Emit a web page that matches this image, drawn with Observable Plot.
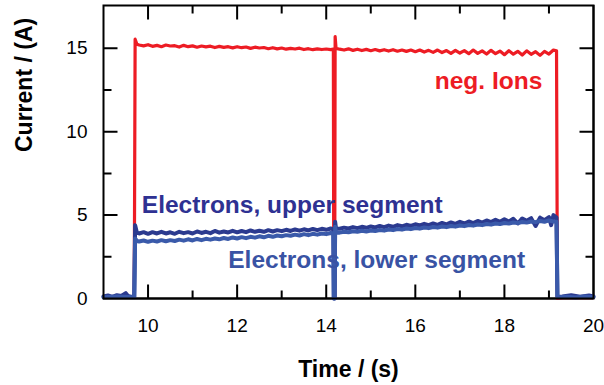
<!DOCTYPE html>
<html><head><meta charset="utf-8">
<script src="https://cdn.jsdelivr.net/npm/d3@7"></script>
<script src="https://cdn.jsdelivr.net/npm/@observablehq/plot@0.6"></script>
<style>
body{margin:0;background:#fff}
#chart svg{font-family:'Liberation Sans', Arial, sans-serif;background:#fff;color:#000}
</style>
</head><body><div id="chart"></div>
<script>
const xMajorTicks = [10, 12, 14, 16, 18, 20];
const xMinorTicks = [11, 13, 15, 17, 19];
const yMajorTicks = [0, 5, 10, 15];
const yMinorTicks = [2.5, 7.5, 12.5];

// [time (s), current (A)]
const negIons = [
 [9.0,0.1],[9.69,0.1],[9.71,15.55],[9.75,15.25],
 [9.8,15.2],[9.9,15.15],[10.0,15.22],[10.1,15.12],[10.2,15.18],[10.3,15.1],[10.4,15.2],[10.5,15.14],[10.6,15.16],[10.7,15.08],[10.8,15.18],[10.9,15.1],
 [11.0,15.15],[11.1,15.07],[11.2,15.14],[11.3,15.09],[11.4,15.13],[11.5,15.05],[11.6,15.12],[11.7,15.06],[11.8,15.1],[11.9,15.03],
 [12.0,15.1],[12.1,15.04],[12.2,15.08],[12.3,15.0],[12.4,15.07],[12.5,15.02],[12.6,15.05],[12.7,14.98],[12.8,15.04],[12.9,14.97],
 [13.0,15.02],[13.1,14.95],[13.2,15.0],[13.3,14.96],[13.4,15.01],[13.5,14.93],[13.6,14.98],[13.7,14.92],[13.8,14.97],[13.9,14.93],
 [14.0,14.96],[14.1,14.92],[14.16,14.95],[14.17,0],[14.19,0],[14.2,15.7],[14.22,15.0],
 [14.3,14.95],[14.4,14.9],[14.5,14.97],[14.6,14.88],[14.7,14.95],[14.8,14.87],[14.9,14.94],
 [15.0,14.86],[15.1,14.93],[15.2,14.85],[15.3,14.92],[15.4,14.84],[15.5,14.92],[15.6,14.83],[15.7,14.9],[15.8,14.82],[15.9,14.9],
 [16.0,14.8],[16.1,14.9],[16.2,14.78],[16.3,14.88],[16.4,14.76],[16.5,14.9],[16.6,14.75],[16.7,14.87],[16.8,14.7],[16.9,14.88],
 [17.0,14.72],[17.1,14.86],[17.2,14.68],[17.3,14.9],[17.4,14.7],[17.5,14.85],[17.6,14.66],[17.7,14.88],[17.8,14.68],[17.9,14.84],
 [18.0,14.62],[18.1,14.86],[18.2,14.65],[18.3,14.82],[18.4,14.6],[18.5,14.85],[18.6,14.64],[18.7,14.8],[18.8,14.58],[18.9,14.82],
 [19.0,14.66],[19.1,14.9],[19.17,14.85],[19.19,0],[19.3,0.05],[20.0,0.05]
];

const electronsUpper = [
 [9.0,0.12],[9.1,0.18],[9.2,0.1],[9.3,0.2],[9.4,0.15],[9.5,0.32],[9.55,0.15],[9.6,0.12],[9.69,0.1],[9.71,4.4],[9.75,3.95],
 [9.8,3.9],[9.9,3.98],[10.0,3.88],[10.1,3.98],[10.2,3.9],[10.3,4.0],[10.4,3.9],[10.5,3.97],[10.6,3.88],[10.7,4.0],[10.8,3.92],[10.9,3.98],
 [11.0,3.9],[11.1,4.02],[11.2,3.93],[11.3,4.0],[11.4,3.92],[11.5,4.05],[11.6,3.95],[11.7,4.02],[11.8,3.96],[11.9,4.06],
 [12.0,3.97],[12.1,4.05],[12.2,3.98],[12.3,4.08],[12.4,4.0],[12.5,4.06],[12.6,4.0],[12.7,4.1],[12.8,4.02],[12.9,4.1],
 [13.0,4.04],[13.1,4.12],[13.2,4.05],[13.3,4.14],[13.4,4.07],[13.5,4.15],[13.6,4.08],[13.7,4.17],[13.8,4.1],[13.9,4.18],
 [14.0,4.12],[14.1,4.2],[14.16,4.15],[14.17,0],[14.19,0],[14.2,4.6],[14.22,4.2],
 [14.3,4.18],[14.4,4.25],[14.5,4.2],[14.6,4.28],[14.7,4.22],[14.8,4.3],[14.9,4.24],
 [15.0,4.32],[15.1,4.26],[15.2,4.35],[15.3,4.28],[15.4,4.37],[15.5,4.3],[15.6,4.4],[15.7,4.33],[15.8,4.42],[15.9,4.35],
 [16.0,4.45],[16.1,4.38],[16.2,4.48],[16.3,4.4],[16.4,4.5],[16.5,4.42],[16.6,4.53],[16.7,4.45],[16.8,4.56],[16.9,4.48],
 [17.0,4.6],[17.1,4.5],[17.2,4.62],[17.3,4.52],[17.4,4.65],[17.5,4.55],[17.6,4.68],[17.7,4.58],[17.8,4.72],[17.9,4.6],
 [18.0,4.75],[18.1,4.62],[18.2,4.78],[18.3,4.5],[18.4,4.8],[18.5,4.66],[18.6,4.82],[18.7,4.35],[18.8,4.85],[18.9,4.7],
 [19.0,4.88],[19.05,4.4],[19.1,5.0],[19.17,4.85],[19.19,0.1],[19.3,0.12],[19.5,0.2],[19.7,0.1],[19.9,0.18],[20.0,0.12]
];

const electronsLower = [
 [9.0,0.08],[9.3,0.12],[9.69,0.08],[9.71,3.6],[9.75,3.45],
 [9.8,3.42],[9.9,3.48],[10.0,3.4],[10.1,3.47],[10.2,3.42],[10.3,3.5],[10.4,3.43],[10.5,3.5],[10.6,3.45],[10.7,3.53],[10.8,3.47],[10.9,3.55],
 [11.0,3.48],[11.1,3.57],[11.2,3.5],[11.3,3.58],[11.4,3.53],[11.5,3.6],[11.6,3.55],[11.7,3.63],[11.8,3.57],[11.9,3.66],
 [12.0,3.6],[12.1,3.68],[12.2,3.62],[12.3,3.7],[12.4,3.65],[12.5,3.73],[12.6,3.67],[12.7,3.76],[12.8,3.7],[12.9,3.78],
 [13.0,3.73],[13.1,3.8],[13.2,3.76],[13.3,3.83],[13.4,3.78],[13.5,3.86],[13.6,3.8],[13.7,3.88],[13.8,3.83],[13.9,3.9],
 [14.0,3.86],[14.1,3.93],[14.16,3.9],[14.17,0],[14.19,0],[14.2,4.3],[14.22,3.95],
 [14.3,3.95],[14.4,4.0],[14.5,3.97],[14.6,4.03],[14.7,4.0],[14.8,4.06],[14.9,4.02],
 [15.0,4.08],[15.1,4.05],[15.2,4.11],[15.3,4.07],[15.4,4.14],[15.5,4.1],[15.6,4.17],[15.7,4.13],[15.8,4.2],[15.9,4.16],
 [16.0,4.23],[16.1,4.19],[16.2,4.26],[16.3,4.22],[16.4,4.29],[16.5,4.25],[16.6,4.32],[16.7,4.28],[16.8,4.35],[16.9,4.31],
 [17.0,4.38],[17.1,4.34],[17.2,4.41],[17.3,4.37],[17.4,4.44],[17.5,4.4],[17.6,4.47],[17.7,4.43],[17.8,4.5],[17.9,4.46],
 [18.0,4.53],[18.1,4.49],[18.2,4.56],[18.3,4.52],[18.4,4.59],[18.5,4.55],[18.6,4.62],[18.7,4.58],[18.8,4.65],[18.9,4.6],
 [19.0,4.68],[19.1,4.62],[19.17,4.6],[19.19,0.08],[19.4,0.1],[19.6,0.06],[19.8,0.12],[20.0,0.08]
];

const ionsLabel = [{text: "neg. Ions", x: 18.85, y: 13.05}];
const electronLabels = [
 {text: "Electrons, upper segment", x: 9.86, y: 5.6, color: "#2e3192"},
 {text: "Electrons, lower segment", x: 11.8, y: 2.3, color: "#3953a4"}
];

const xDomain = [9, 20], yDomain = [0, 17.57];
const major = 14, minor = 8;

const chart = Plot.plot({
  width: 604, height: 385,
  marginLeft: 103, marginRight: 11, marginTop: 5, marginBottom: 87,
  x: {domain: xDomain},
  y: {domain: yDomain},
  marks: [
    // inward ticks: full-span rules, trimmed by white panels inset from the frame edges
    Plot.ruleX(xMinorTicks, {x: d => d, stroke: "black", strokeWidth: 2}),
    Plot.ruleY(yMinorTicks, {y: d => d, stroke: "black", strokeWidth: 2}),
    Plot.frame({fill: "white", stroke: "none", inset: minor}),
    Plot.ruleX(xMajorTicks, {x: d => d, stroke: "black", strokeWidth: 2}),
    Plot.ruleY(yMajorTicks, {y: d => d, stroke: "black", strokeWidth: 2}),
    Plot.frame({fill: "white", stroke: "none", inset: major}),
    // data
    Plot.line(negIons, {x: d => d[0], y: d => d[1], stroke: "#ed1c24", strokeWidth: 3.2}),
    Plot.line(electronsUpper, {x: d => d[0], y: d => d[1], stroke: "#2b3a8f", strokeWidth: 4}),
    Plot.line(electronsLower, {x: d => d[0], y: d => d[1], stroke: "#3a5aaa", strokeWidth: 4}),
    Plot.frame({stroke: "black", strokeWidth: 2}),
    Plot.axisX(xMajorTicks, {anchor: "bottom", tickSize: 0, tickPadding: 20, fontSize: 19, label: null}),
    Plot.axisY(yMajorTicks, {anchor: "left", tickSize: 0, tickPadding: 16, fontSize: 19, label: null}),
    Plot.text(["Time / (s)"], {frameAnchor: "bottom", lineAnchor: "top", dy: 62, text: d => d, fontSize: 23, fontWeight: "bold", fill: "black"}),
    Plot.text(["Current / (A)"], {frameAnchor: "left", rotate: -90, dx: -79, text: d => d, fontSize: 23, fontWeight: "bold", fill: "black"}),
    Plot.text(ionsLabel, {x: "x", y: "y", text: "text", fill: "#ed1c24", textAnchor: "end", fontSize: 24.5, fontWeight: "bold"}),
    Plot.text(electronLabels, {x: "x", y: "y", text: "text", fill: "color", textAnchor: "start", fontSize: 24.5, fontWeight: "bold"})
  ]
});
document.getElementById("chart").appendChild(chart);
</script>
</body></html>
